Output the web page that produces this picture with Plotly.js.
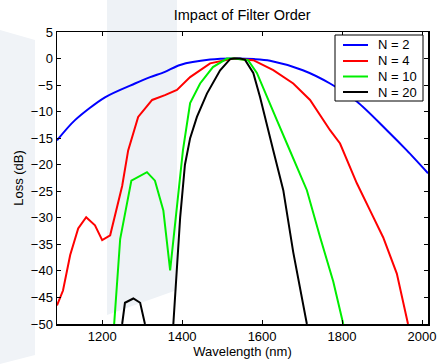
<!DOCTYPE html>
<html>
<head>
<meta charset="utf-8">
<script src="https://cdn.plot.ly/plotly-3.0.1.min.js"></script>
<style>html,body{margin:0;padding:0;background:#fff;}#chart{width:438px;height:364px;}</style>
</head>
<body>
<div id="chart"></div>
<script>
// N = 2
const n2X = [1087,1132,1207,1282,1320,1357,1395,1470,1530,1580,1620,1702,1770,1837,1912,1962,2015];
const n2Y = [-15.4,-11.6,-7.3,-4.7,-3.5,-2.5,-1.2,-0.2,0,-0.1,-0.4,-2.2,-4.7,-8.1,-13.5,-17.3,-21.6];
// N = 4
const n4X = [1087,1102,1120,1140,1160,1182,1200,1220,1250,1265,1290,1325,1357,1387,1420,1470,1528,1578,1628,1678,1720,1745,1770,1795,1837,1870,1903,1937,1965];
const n4Y = [-46.5,-43.7,-37,-32,-29.9,-31.4,-34.2,-33.3,-24,-17.3,-11,-7.8,-6.9,-5.9,-3.5,-0.9,0,-0.3,-2.2,-4.7,-7.8,-10.7,-13.5,-16,-23.5,-28.6,-33.7,-40.5,-50];
// N = 10
const n10X = [1230,1245,1273,1312,1332,1353,1370,1380,1402,1420,1445,1477,1512,1530,1565,1587,1612,1637,1662,1687,1712,1745,1778,1803];
const n10Y = [-50,-34,-23,-21.4,-23,-28.6,-39.9,-33,-17.3,-8.4,-4.7,-1.6,0,0,-0.3,-2.7,-7.3,-11.6,-16,-20.4,-24.8,-33.6,-42,-50];
// N = 20 (side lobe, then main lobe)
const n20X = [1250,1257,1278,1295,1307,null,1378,1395,1407,1420,1437,1462,1495,1520,1530,1545,1557,1578,1595,1612,1628,1645,1653,1678,1712];
const n20Y = [-50,-46,-45.2,-46,-50,null,-50,-30,-20,-15,-11,-6.6,-2.2,-0.1,0,0,-0.2,-2.7,-7.3,-12.2,-17.3,-22.4,-24.8,-36.5,-50];

const names = ['N = 2','N = 4','N = 10','N = 20'];
const colors = ['#0000ff','#ff0000','#00ee00','#000000'];
const xs = [n2X,n4X,n10X,n20X];
const ys = [n2Y,n4Y,n10Y,n20Y];

const traces = names.map((nm,i)=>({
  x: xs[i], y: ys[i], name: nm, type:'scatter', mode:'lines',
  line:{color:colors[i], width:2, shape: i===0 ? 'spline' : 'linear', smoothing:0.8},
  connectgaps:false, showlegend:false
}));

// pixel -> paper helpers
const ML=57, MR=10, MT=32, MB=40, W=438, H=364;
const pw = W-ML-MR, ph = H-MT-MB;
function px(x){return (x-ML)/pw;}
function py(y){return (H-MB-y)/ph;}

const shapes = [
  {type:'path', xref:'paper', yref:'paper', layer:'below', line:{width:0}, fillcolor:'#f0f3f7',
   path:`M ${px(0)} ${py(30)} L ${px(35)} ${py(40)} L ${px(35)} ${py(355)} L ${px(0)} ${py(364)} Z`},
  {type:'path', xref:'paper', yref:'paper', layer:'below', line:{width:0}, fillcolor:'#eef2f6',
   path:`M ${px(107)} ${py(0)} L ${px(177)} ${py(0)} L ${px(177)} ${py(290)} L ${px(107)} ${py(315)} Z`},
  // legend box
  {type:'rect', xref:'paper', yref:'paper', layer:'above', x0:px(335), x1:px(423), y0:py(35), y1:py(101),
   fillcolor:'#ffffff', line:{color:'#000', width:1}}
];
const annotations = [];
const rowY = [45, 61, 76.5, 92];
names.forEach((nm,i)=>{
  shapes.push({type:'line', xref:'paper', yref:'paper', layer:'above', x0:px(343), x1:px(368), y0:py(rowY[i]), y1:py(rowY[i]),
    line:{color:colors[i], width:2}});
  annotations.push({xref:'paper', yref:'paper', x:px(376), y:py(rowY[i]), xanchor:'left', yanchor:'middle',
    text:nm, showarrow:false, font:{size:13, color:'#000'}});
});

const layout = {
  width:W, height:H,
  margin:{l:ML, r:MR, t:MT, b:MB},
  paper_bgcolor:'#ffffff',
  plot_bgcolor:'rgba(0,0,0,0)',
  font:{family:'Liberation Sans, Arial, sans-serif', size:13, color:'#000'},
  title:{text:'Impact of Filter Order', x:0.553, xanchor:'center', y:0.958, yanchor:'middle', font:{size:14.5, color:'#000'}},
  xaxis:{
    range:[1087,2015], tickvals:[1200,1400,1600,1800,2000],
    ticks:'inside', ticklen:4, tickcolor:'#000', showline:true, linecolor:'#000', linewidth:1.5, mirror:'ticks',
    showgrid:false, zeroline:false,
    title:{text:'Wavelength (nm)', standoff:2, font:{size:13}}
  },
  yaxis:{
    range:[-50,5], tickvals:[-50,-45,-40,-35,-30,-25,-20,-15,-10,-5,0,5],
    ticks:'inside', ticklen:4, tickcolor:'#000', showline:true, linecolor:'#000', linewidth:1.5, mirror:'ticks',
    showgrid:false, zeroline:false,
    title:{text:'Loss (dB)', standoff:4, font:{size:13}}
  },
  showlegend:false,
  shapes: shapes,
  annotations: annotations
};

Plotly.newPlot('chart', traces, layout, {displayModeBar:false, staticPlot:true});
</script>
</body>
</html>
